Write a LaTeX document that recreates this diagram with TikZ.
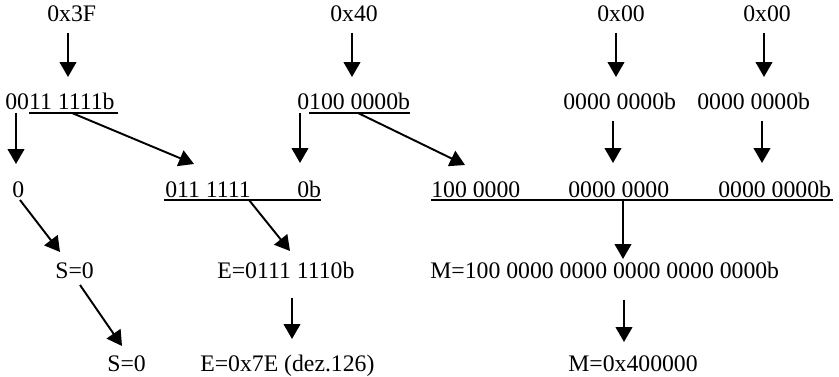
\documentclass[tikz,border=0pt]{standalone}
\usepackage{fontspec}
\setmainfont{Liberation Serif}
\usetikzlibrary{arrows.meta}

\begin{document}
\begin{tikzpicture}
[x=0.02cm,y=-0.02cm,
  textdecorate/.style={anchor=base west,inner sep=0pt,font=\fontsize{13.5}{16}\selectfont},
  linedecorate/.style={-,line width=0.8pt},
  arrowdecorate/.style={-{Triangle[length=8.5pt,width=9.5pt]},line width=1.1pt}]
\useasboundingbox (0,0) rectangle (839,377);
%% texts
\foreach \nodename/\x/\y/\txt in {hexA/47/22/0x3F, hexB/330/22/0x40,
  hexC/597/22/0x00, hexD/743/22/0x00,
  binA/5/110/0011 1111b, binB/297/110/0100 0000b,
  binC/563/110/0000 0000b, binD/697/110/0000 0000b,
  sign/12/198/0, expHi/165/198/011 1111, expLo/297/198/0b,
  manA/431/198/100 0000, manB/568/198/0000 0000, manC/718/198/0000 0000b,
  sBit/55/279/S=0, eBin/217/279/E=0111 1110b,
  mBin/430/279/M=100 0000 0000 0000 0000 0000b,
  sVal/107/372/S=0, eVal/200/372/E=0x7E (dez.126), mVal/568/372/M=0x400000}
{
  \node (\nodename) at (\x,\y) [textdecorate] {\txt};
}
%% underlines
\foreach \xa/\xb/\y in {29/118/113, 309/410/113, 164/321/200, 431/833/200}
{
  \draw[linedecorate] (\xa,\y) -- (\xb,\y);
}
%% arrow ends
\foreach \cname/\x/\y in {hexAo/68/33, binAi/68/77, hexBo/352/33, binBi/352/77,
  hexCo/616/33, binCi/616/77, hexDo/764/33, binDi/764/77,
  binAs/16/113, signi/16/164, binAe/72/113, expHii/194/164,
  binBs/300/113, expLoi/300/163, binBm/358/113, manAi/465/165,
  binCo/613/121, manBi/613/163, binDo/762/121, manCi/762/163,
  signo/20/200, sBiti/60/252, sBito/80/285, sVali/122/346,
  expo/249/200, eBini/290/251, eBino/292/298, eVali/292/339,
  mano/623/200, mBini/623/259, mBino/624/300, mVali/624/342}
{
  \coordinate (\cname) at (\x,\y);
}
%% arrows
\path
\foreach \startnode/\endnode in {hexAo/binAi, hexBo/binBi, hexCo/binCi, hexDo/binDi,
  binAs/signi, binAe/expHii, binBs/expLoi, binBm/manAi, binCo/manBi, binDo/manCi,
  signo/sBiti, sBito/sVali, expo/eBini, eBino/eVali, mano/mBini, mBino/mVali}
{
  (\startnode) edge[arrowdecorate] (\endnode)
};
\end{tikzpicture}
\end{document}
